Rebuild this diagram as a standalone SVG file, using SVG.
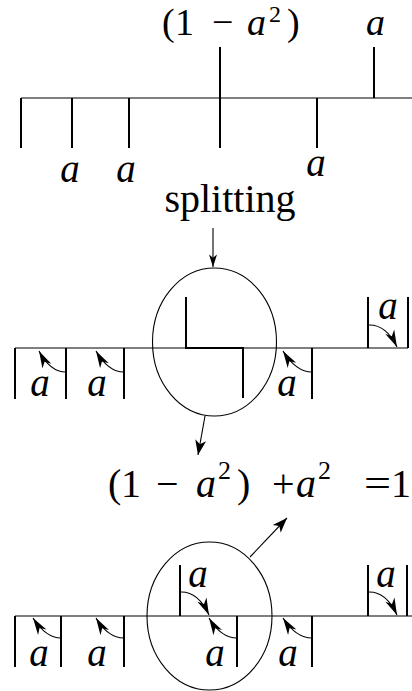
<svg xmlns="http://www.w3.org/2000/svg" width="412" height="691" viewBox="0 0 412 691">
<style>
.bg{fill:#fff}
.axis{stroke:#000;stroke-width:1.2;fill:none}
.tick{stroke:#000;stroke-width:2;fill:none}
.ell{stroke:#000;stroke-width:1.1;fill:none}
.carc{stroke:#000;stroke-width:1.1;fill:none;marker-end:url(#chead)}
.conn{stroke:#000;stroke-width:1.1;fill:none}
.m{font-family:"Liberation Serif","Times New Roman",serif;font-size:40px;fill:#000}
.t{font-size:38px}
.i{font-style:italic}
.sup{font-size:26px}
.sup2{font-size:24px}
.lab{font-family:"Liberation Serif","Times New Roman",serif;font-size:39px;font-style:italic;fill:#000;text-anchor:middle}
</style>
<defs>
<marker id="chead" markerUnits="userSpaceOnUse" markerWidth="22" markerHeight="22" viewBox="-20 -10 22 20" refX="0" refY="0" orient="auto">
<path d="M0,0 L-17,-5 L-12,0 L-17,5 Z" fill="#000"/>
</marker>
<marker id="ahead" markerUnits="userSpaceOnUse" markerWidth="22" markerHeight="22" viewBox="-20 -10 22 20" refX="0" refY="0" orient="auto">
<path d="M0,0 L-15,-5.5 L-11,0 L-15,5.5 Z" fill="#000"/>
</marker>
<marker id="shead" markerUnits="userSpaceOnUse" markerWidth="16" markerHeight="16" viewBox="-12 -6 14 12" refX="0" refY="0" orient="auto">
<path d="M0,0 L-11,-3.5 L-8,0 L-11,3.5 Z" fill="#000"/>
</marker>
</defs>
<rect class="bg" x="0" y="0" width="412" height="691"/>

<g id="top-row">
<line class="axis" x1="21" y1="98" x2="412" y2="98"/>
<path class="tick" d="M21,98V148 M72,98V148 M129,98V148 M220,47V148 M317,98V148 M374,47V98"/>
<text class="m t"><tspan x="162" y="35">(</tspan><tspan x="175" y="35">1</tspan><tspan x="212" y="35">−</tspan><tspan class="i" x="247" y="35">a</tspan><tspan class="sup2" x="269" y="22">2</tspan><tspan x="287" y="35">)</tspan></text>
<text class="m t i" x="366" y="35">a</text>
<text class="lab" x="70" y="182">a</text>
<text class="lab" x="126" y="182">a</text>
<text class="lab" x="316" y="176">a</text>
</g>

<g id="splitting-label">
<text class="m" x="230" y="212" text-anchor="middle">splitting</text>
</g>

<g id="middle-row">
<line class="axis" x1="15" y1="348" x2="408" y2="348"/>
<ellipse id="split-circle" class="ell" cx="214.5" cy="342" rx="62" ry="74"/>
<path class="tick" d="M186,297V348H243V398"/>
<path class="tick" d="M15,348V399 M66,348V399 M124,348V399 M312,348V399 M368,297V348 M408,297V348"/>
<path class="carc" d="M66,372 Q50,372 39,351"/>
<path class="carc" d="M124,372 Q108,372 96,351"/>
<path class="carc" d="M312,372 Q296,372 283,351"/>
<path class="carc" d="M368,325 Q386,324 397,347"/>
<text class="lab" x="40" y="396">a</text>
<text class="lab" x="97" y="396">a</text>
<text class="lab" x="287" y="396">a</text>
<text class="lab" x="388" y="319">a</text>
</g>

<g id="sum-formula">
<text class="m"><tspan x="108" y="497">(</tspan><tspan x="121" y="497">1</tspan><tspan x="156" y="497">−</tspan><tspan class="i" x="196" y="497">a</tspan><tspan class="sup" x="218" y="479">2</tspan><tspan x="237" y="497">)</tspan><tspan x="272" y="497">+</tspan><tspan class="i" x="296" y="497">a</tspan><tspan class="sup" x="318" y="479">2</tspan></text>
<text class="m" transform="translate(364,497) scale(1.2,1)" x="0" y="0">=</text>
<text class="m" x="411" y="497" text-anchor="end">1</text>
</g>

<g id="bottom-row">
<line class="axis" x1="15" y1="616" x2="412" y2="616"/>
<ellipse id="merge-circle" class="ell" cx="209.5" cy="616" rx="62.5" ry="74"/>
<path class="tick" d="M15,616V667 M61,616V667 M124,616V667 M237,616V667 M312,616V667 M180,565V616 M368,565V616 M407,565V616"/>
<path class="carc" d="M61,638 Q46,638 33,618"/>
<path class="carc" d="M124,638 Q108,638 96,618"/>
<path class="carc" d="M237,638 Q221,638 209,618"/>
<path class="carc" d="M312,638 Q296,638 283,618"/>
<path class="carc" d="M180,592 Q198,591 209,615"/>
<path class="carc" d="M368,592 Q386,591 397,615"/>
<text class="lab" x="39" y="666">a</text>
<text class="lab" x="97" y="666">a</text>
<text class="lab" x="215" y="666">a</text>
<text class="lab" x="288" y="666">a</text>
<text class="lab" x="198" y="587">a</text>
<text class="lab" x="386" y="587">a</text>
</g>

<g id="connectors">
<line class="conn" x1="213" y1="228" x2="213" y2="267" marker-end="url(#shead)"/>
<line class="conn" x1="205" y1="416" x2="198" y2="455" marker-end="url(#ahead)"/>
<line class="conn" x1="250" y1="557" x2="287" y2="518" marker-end="url(#ahead)"/>
</g>
</svg>
